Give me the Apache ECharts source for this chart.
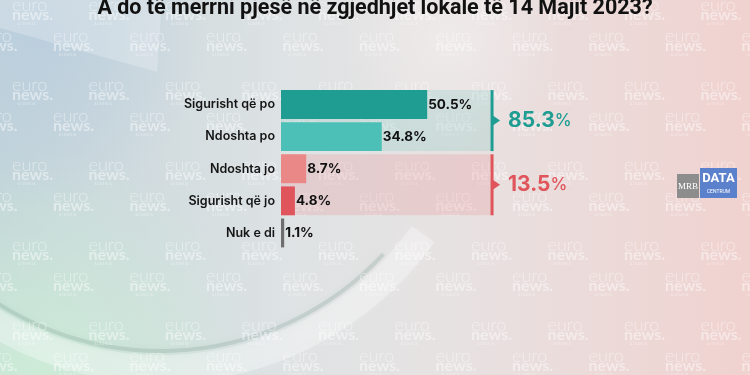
<!DOCTYPE html>
<html>
<head>
<meta charset="utf-8">
<script src="https://cdn.jsdelivr.net/npm/echarts@6/dist/echarts.min.js"></script>
<style>
  html, body { margin: 0; padding: 0; }
  #main { width: 750px; height: 375px; }
</style>
</head>
<body>
<div id="main"></div>
<script>
var titleText = 'A do të merrni pjesë në zgjedhjet lokale të 14 Majit 2023?';
var categories = ['Sigurisht që po', 'Ndoshta po', 'Ndoshta jo', 'Sigurisht që jo', 'Nuk e di'];
var values = [50.5, 34.8, 8.7, 4.8, 1.1];
var barColors = ['#1f9d93', '#4cc0b7', '#ea8787', '#e0545b', '#6e6e6e'];
// brackets grouping answers (indexes into categories)
var groupMembers = [[0, 1], [2, 3]];
var groupColors = ['#1f9d93', '#e0545b'];
var groupShades = ['rgba(110,195,185,0.22)', 'rgba(235,120,125,0.20)'];
var bracketEnd = 72.9; // axis value where the bracket line sits

var chart = echarts.init(document.getElementById('main'));

// repeating "euro news." watermark tile
function makeWatermark() {
  var c = document.createElement('canvas');
  c.width = 153; c.height = 80;
  var ctx = c.getContext('2d');
  ctx.fillStyle = 'rgba(255,255,255,0.45)';
  ctx.textBaseline = 'alphabetic';
  var spots = [[12, 11], [88.5, 11], [53, 42], [129.5, 42]];
  spots.forEach(function (p) {
    [-153, 0, 153].forEach(function (dx) {
      [-80, 0, 80].forEach(function (dy) {
        var x = p[0] + dx, y = p[1] + dy;
        ctx.font = '300 18px Lato';
        ctx.fillText('euro', x, y);
        ctx.font = 'bold 16px Lato';
        ctx.fillText('news.', x, y + 9);
        ctx.font = '3px Lato';
        ctx.fillText('A L B A N I A', x + 6, y + 14);
      });
    });
  });
  return c;
}

var option = {
  backgroundColor: '#e2e4e4',
  title: {
    text: titleText,
    left: 'center',
    top: -7,
    textStyle: { fontFamily: 'Roboto', fontSize: 21.5, fontWeight: 'bold', color: '#111' }
  },
  grid: { left: 281, top: 88.5, width: 289.5, height: 160.5 },
  xAxis: {
    type: 'value', min: 0, max: 100, show: false
  },
  yAxis: {
    type: 'category',
    data: categories,
    inverse: true,
    axisLine: { show: false },
    axisTick: { show: false },
    axisLabel: {
      margin: 6,
      fontFamily: 'Inter',
      fontSize: 12.5,
      fontWeight: 600,
      color: '#151515'
    }
  },
  series: [{
    type: 'bar',
    barCategoryGap: '10%',
    data: values.map(function (v, i) {
      return { value: v, itemStyle: { color: barColors[i] } };
    }),
    barMinWidth: 3,
    label: {
      show: true,
      position: 'right',
      distance: 1,
      formatter: '{c}%',
      fontFamily: 'Inter',
      fontSize: 13.5,
      fontWeight: 'bold',
      color: '#111'
    },
    z: 5
  }]
};
chart.setOption(option);

// background + brackets, positioned through the chart's own axes
var W = 750, H = 375;
var g = [];
g.push({
  type: 'rect', z: -10, silent: true,
  shape: { x: 0, y: 0, width: W, height: H },
  style: { fill: new echarts.graphic.LinearGradient(0, 0, 1, 0, [
    { offset: 0, color: '#c3d4da' },
    { offset: 0.4, color: '#dfe3e4' },
    { offset: 0.6, color: '#e7e2e2' },
    { offset: 1, color: '#f0d2cf' }
  ]) }
});
g.push({
  type: 'rect', z: -9, silent: true,
  shape: { x: 0, y: 0, width: W, height: H },
  style: { fill: new echarts.graphic.RadialGradient(0.05, 1, 0.6, [
    { offset: 0, color: 'rgba(205,238,214,0.9)' },
    { offset: 1, color: 'rgba(205,238,214,0)' }
  ]) }
});
g.push({
  type: 'rect', z: -9, silent: true,
  shape: { x: 0, y: 0, width: W, height: H },
  style: { fill: new echarts.graphic.RadialGradient(0.05, 0.1, 0.45, [
    { offset: 0, color: 'rgba(185,205,222,0.8)' },
    { offset: 1, color: 'rgba(185,205,222,0)' }
  ]) }
});
g.push({
  type: 'rect', z: -9, silent: true,
  shape: { x: 0, y: 0, width: W, height: H },
  style: { fill: new echarts.graphic.RadialGradient(0.6, 0.1, 0.3, [
    { offset: 0, color: 'rgba(245,240,240,0.6)' },
    { offset: 1, color: 'rgba(245,240,240,0)' }
  ]) }
});
g.push({
  type: 'polygon', z: -8, silent: true,
  shape: { points: [[0, 0], [162, 0], [157, 72], [0, 28]] },
  style: { fill: 'rgba(255,255,255,0.22)' }
});
g.push({
  type: 'arc', z: -8, silent: true,
  shape: { cx: 161, cy: 47, r: 322, startAngle: 0.62, endAngle: 2.5, clockwise: true },
  style: { fill: 'none', stroke: 'rgba(255,255,255,0.3)', lineWidth: 28, shadowBlur: 14, shadowColor: 'rgba(255,255,255,0.4)' }
});
g.push({
  type: 'arc', z: -8, silent: true,
  shape: { cx: 161, cy: 47, r: 304, startAngle: 0.75, endAngle: 2.5, clockwise: true },
  style: { fill: 'none', stroke: 'rgba(110,145,130,0.22)', lineWidth: 4, shadowBlur: 6, shadowColor: 'rgba(110,145,130,0.3)' }
});
g.push({
  type: 'rect', z: -7, silent: true,
  shape: { x: 0, y: 0, width: W, height: H },
  style: { fill: { image: makeWatermark(), repeat: 'repeat' } }
});

var c0 = chart.convertToPixel({ yAxisIndex: 0 }, categories[0]);
var c1 = chart.convertToPixel({ yAxisIndex: 0 }, categories[1]);
var band = c1 - c0;
var half = band * 0.9 / 2;
var x0 = chart.convertToPixel({ xAxisIndex: 0 }, 0);
var xb = chart.convertToPixel({ xAxisIndex: 0 }, bracketEnd);

groupMembers.forEach(function (m, gi) {
  var yA = chart.convertToPixel({ yAxisIndex: 0 }, categories[m[0]]) - half;
  var yB = chart.convertToPixel({ yAxisIndex: 0 }, categories[m[m.length - 1]]) + half;
  var mid = (yA + yB) / 2;
  var total = m.reduce(function (s, i) { return s + values[i]; }, 0);
  g.push({
    type: 'rect', z: -1, silent: true,
    shape: { x: x0, y: yA, width: xb - x0, height: yB - yA },
    style: { fill: groupShades[gi] }
  });
  g.push({
    type: 'rect', z: 6, silent: true,
    shape: { x: xb - 1.5, y: yA, width: 3, height: yB - yA },
    style: { fill: groupColors[gi] }
  });
  g.push({
    type: 'polygon', z: 6, silent: true,
    shape: { points: [[xb, mid - 5.5], [xb + 8, mid], [xb, mid + 5.5]] },
    style: { fill: groupColors[gi] }
  });
  g.push({
    type: 'text', z: 6, silent: true,
    x: xb + 16, y: mid,
    style: {
      text: '{n|' + total.toFixed(1) + '}{p|%}',
      verticalAlign: 'middle',
      rich: {
        n: { fontFamily: 'Inter', fontSize: 21, fontWeight: 'bold', fill: groupColors[gi] },
        p: { fontFamily: 'Inter', fontSize: 17, fontWeight: 500, fill: groupColors[gi] }
      }
    }
  });
});

// MRB / DATA CENTRUM logo
g.push({
  type: 'group', z: 6, silent: true,
  children: [
    { type: 'rect', shape: { x: 677, y: 174, width: 22, height: 24 }, style: { fill: '#8d8d8d' } },
    { type: 'text', x: 688, y: 187, style: { text: 'MRB', fontFamily: 'Liberation Serif', fontSize: 9, fill: '#fff', align: 'center', verticalAlign: 'middle' } },
    { type: 'rect', shape: { x: 700, y: 168, width: 37, height: 30 }, style: { fill: '#5b80cc' } },
    { type: 'text', x: 718.5, y: 179, style: { text: 'DATA', fontFamily: 'Roboto', fontWeight: 'bold', fontSize: 13, fill: '#fff', align: 'center', verticalAlign: 'middle' } },
    { type: 'text', x: 718.5, y: 191.5, style: { text: 'CENTRUM', fontFamily: 'Roboto', fontSize: 5, fill: '#fff', align: 'center', verticalAlign: 'middle' } }
  ]
});

chart.setOption({ graphic: g });
</script>
</body>
</html>
